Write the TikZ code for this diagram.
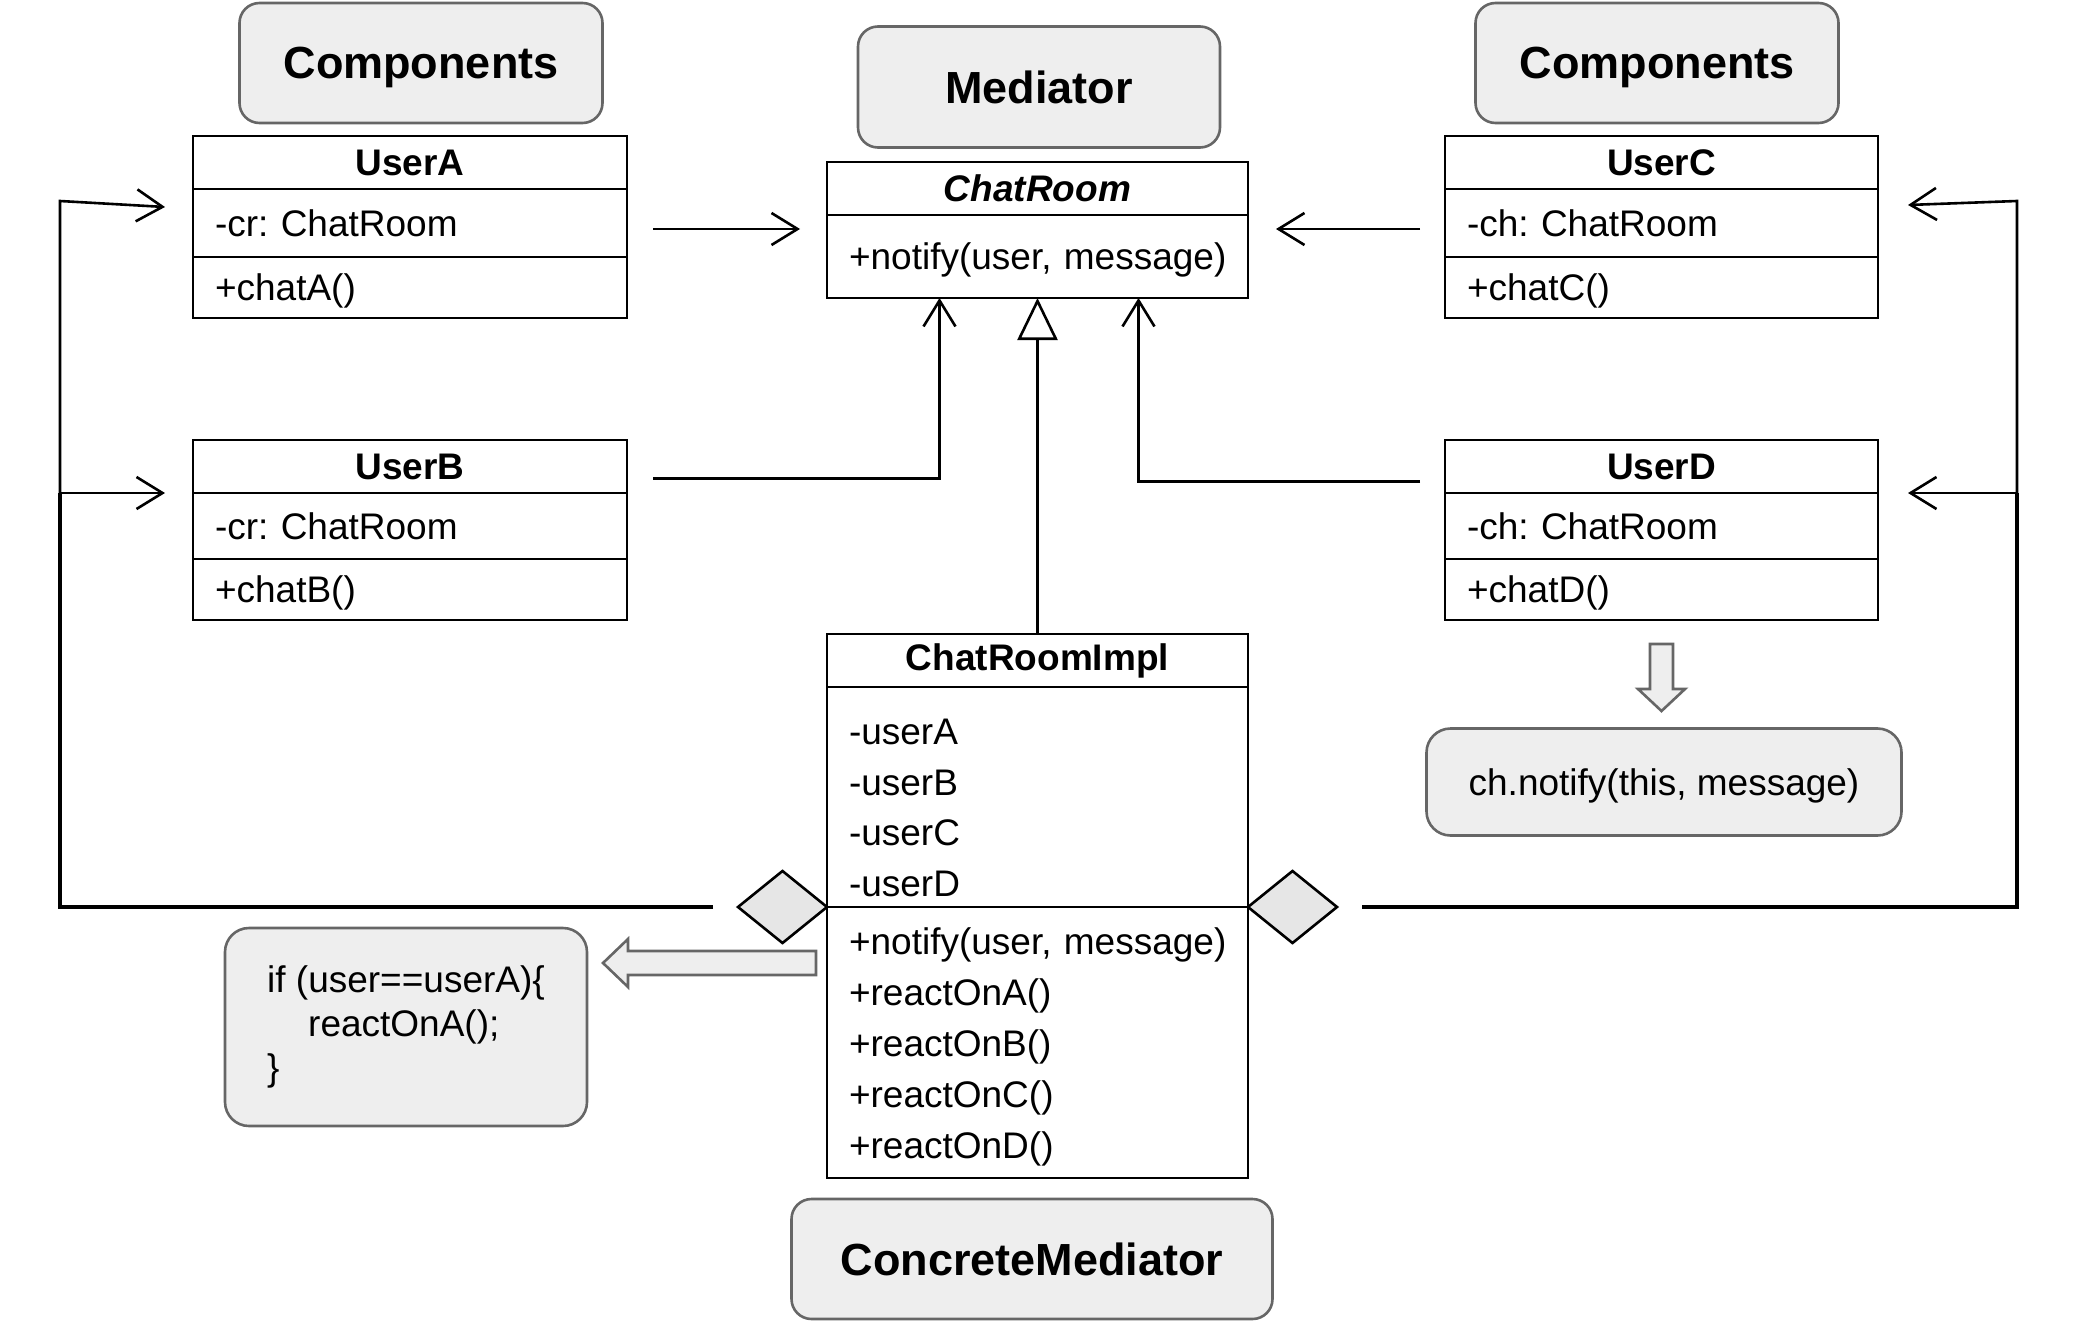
\documentclass[tikz,border=0pt]{standalone}
\usepackage{fontspec}
\setmainfont{Liberation Sans}
\usetikzlibrary{arrows.meta,shapes.geometric}
\definecolor{lblfill}{HTML}{EEEEEE}
\definecolor{lblline}{HTML}{666666}
\definecolor{diafill}{HTML}{E6E6E6}
\begin{document}
\frenchspacing
\begin{tikzpicture}[x=1pt,y=-1pt,
  lbl/.style={draw=lblline, fill=lblfill, line width=2.6pt, rounded corners=20pt, inner sep=0pt, text depth=0pt, font=\fontsize{45}{54}\selectfont\bfseries},
  note/.style={draw=lblline, fill=lblfill, line width=2.6pt, rounded corners=24pt, inner sep=0pt, font=\fontsize{37}{44}\selectfont},
  hdr/.style={draw, line width=2.8pt, inner sep=0pt, outer sep=0pt, anchor=north west, font=\fontsize{37}{44}\selectfont\bfseries},
  row/.style={draw, line width=2.8pt, inner xsep=22pt, inner ysep=0pt, outer sep=0pt, anchor=north west, align=left, text width=#1, font=\fontsize{37}{44}\selectfont},
  onerow/.style={row=#1, text depth=0pt},
  dia/.style={diamond, draw, fill=diafill, line width=2.6pt, minimum width=89pt, minimum height=72pt, inner sep=0pt, outer sep=0pt},
  assoc/.style={line width=2.6pt, -{Straight Barb[length=26pt,width=32pt,line width=2.6pt]}},
  inh/.style={line width=2.6pt, -{Triangle[open,length=42pt,width=40pt,fill=white,line width=2.6pt]}},
  thk/.style={line width=4.5pt},
  hollow/.style={draw=lblline, fill=lblfill, line width=2.6pt, line join=miter}
]
\useasboundingbox (0,0) rectangle (2077,1322);

% labels
\node[lbl, minimum width=363pt, minimum height=120pt] (compL) at (421,63) {Components};
\node[lbl, minimum width=362pt, minimum height=121pt] (med) at (1039,87) {Mediator};
\node[lbl, minimum width=363pt, minimum height=120pt] (compR) at (1657,63) {Components};
\node[lbl, minimum width=481pt, minimum height=120pt] (concM) at (1032,1259) {ConcreteMediator};

% UserA
\node[hdr, minimum width=434pt, minimum height=53pt] (aH) at (193,136) {UserA};
\node[onerow=390pt, minimum height=68pt] (aA) at (193,189) {-cr: ChatRoom};
\node[onerow=390pt, minimum height=61pt] (aM) at (193,257) {+chatA()};
% UserB
\node[hdr, minimum width=434pt, minimum height=53pt] (bH) at (193,440) {UserB};
\node[onerow=390pt, minimum height=66pt] (bA) at (193,493) {-cr: ChatRoom};
\node[onerow=390pt, minimum height=61pt] (bM) at (193,559) {+chatB()};
% UserC
\node[hdr, minimum width=433pt, minimum height=53pt] (cH) at (1445,136) {UserC};
\node[onerow=389pt, minimum height=68pt] (cA) at (1445,189) {-ch: ChatRoom};
\node[onerow=389pt, minimum height=61pt] (cM) at (1445,257) {+chatC()};
% UserD
\node[hdr, minimum width=433pt, minimum height=53pt] (dH) at (1445,440) {UserD};
\node[onerow=389pt, minimum height=66pt] (dA) at (1445,493) {-ch: ChatRoom};
\node[onerow=389pt, minimum height=61pt] (dM) at (1445,559) {+chatD()};
% ChatRoom
\node[hdr, minimum width=421pt, minimum height=53pt, font=\fontsize{37}{44}\selectfont\bfseries\itshape] (rH) at (827,162) {ChatRoom};
\node[onerow=377pt, minimum height=83pt] (rM) at (827,215) {\mbox{+notify(user, message)}};
% ChatRoomImpl
\node[hdr, minimum width=421pt, minimum height=53pt] (iH) at (827,634) {ChatRoomImpl};
\node[row=377pt, minimum height=220pt, font=\fontsize{37}{50.5}\selectfont] (iA) at (827,687) {\rule{0pt}{47pt}-userA\\-userB\\-userC\\-userD};
\node[row=377pt, minimum height=271pt, font=\fontsize{37}{51}\selectfont] (iM) at (827,907) {\rule{0pt}{35pt}\mbox{+notify(user, message)}\\+reactOnA()\\+reactOnB()\\+reactOnC()\\+reactOnD()};

% notes
\node[note, minimum width=475pt, minimum height=107pt, text depth=0pt] (nt) at (1664,782) {ch.notify(this, message)};
\node[note, minimum width=362pt, minimum height=198pt, align=left] (ifb) at (406,1027) {if (user==userA)\{\\\hspace*{41pt}reactOnA();\\\}};

% associations to ChatRoom
\draw[assoc] ([xshift=26pt,yshift=-6pt]aA.east) -- ([xshift=-27pt,yshift=-6pt]aA.east -| rM.west);
\draw[assoc] ([xshift=-25pt,yshift=-6pt]cA.west) -- ([xshift=28pt,yshift=-6pt]cA.west -| rM.east);
\draw[assoc] ([xshift=26pt,yshift=-12pt]bH.east) -| ([xshift=-98pt]rM.south);
\draw[assoc] ([xshift=-25pt,yshift=-15pt]dH.west) -| ([xshift=101pt]rM.south);
% inheritance
\draw[inh] (iH.north) -- (rM.south);

% aggregation diamonds
\node[dia, anchor=east] (dL) at (iA.south west) {};
\node[dia, anchor=west] (dR) at (iA.south east) {};

% left loop
\coordinate (lB) at (60,493);
\coordinate (lA) at (60,201);
\draw[thk] ([xshift=-25pt]dL.west) -| (lB);
\draw[assoc] (lB) -- ([xshift=-28pt]bH.south west);
\draw[assoc] (lB) -- (lA) -- ([xshift=-28pt,yshift=-18pt]aH.south west);
% right loop
\coordinate (lD) at (2017,493);
\coordinate (lC) at (2017,201);
\draw[thk] ([xshift=25pt]dR.east) -| (lD);
\draw[assoc] (lD) -- ([xshift=30pt]dH.south east);
\draw[assoc] (lD) -- (lC) -- ([xshift=30pt,yshift=-16pt]cH.south east);

% hollow block arrows
\draw[hollow] ([xshift=-11.5pt,yshift=-24pt]dM.south) -- ++(23,0) -- ++(0,45) -- ++(12,0) -- ++(-23.5,22) -- ++(-23.5,-22) -- ++(12,0) -- cycle;
\draw[hollow] ([xshift=-11pt,yshift=-44pt]iM.north west) -- ++(-188,0) -- ++(0,-12) -- ++(-25,24) -- ++(25,24) -- ++(0,-12) -- ++(188,0) -- cycle;
\end{tikzpicture}
\end{document}
